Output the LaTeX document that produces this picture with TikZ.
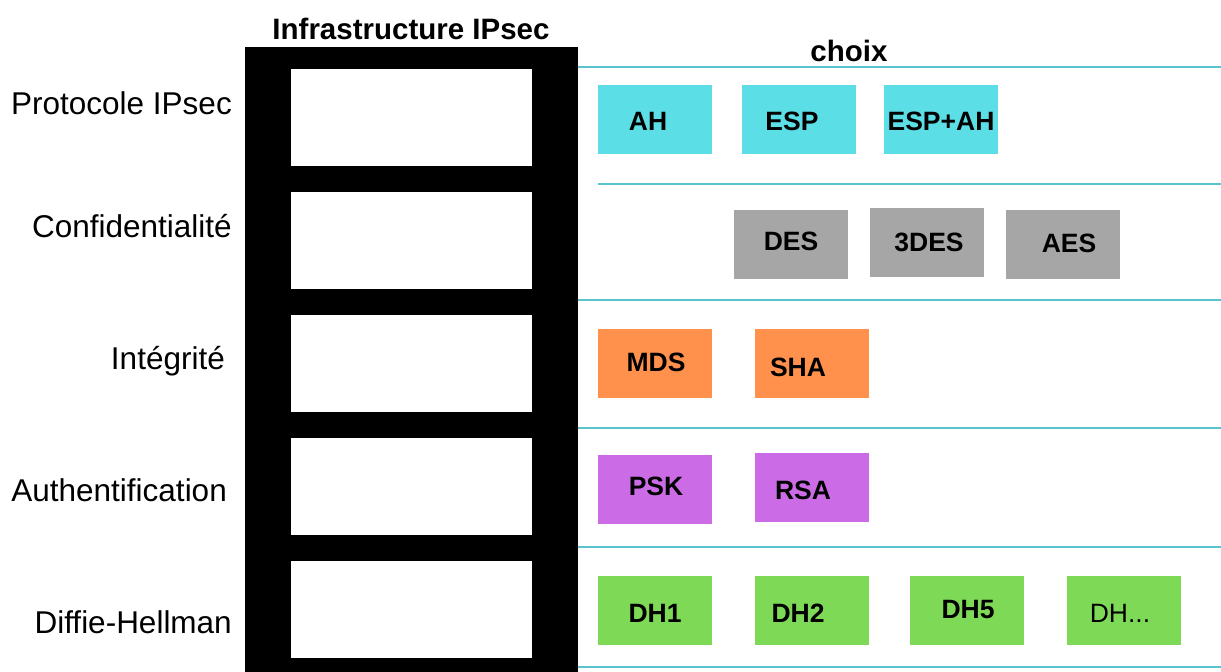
\documentclass[tikz,border=0pt]{standalone}
\usepackage{fontspec}
\setmainfont{Liberation Sans}
\definecolor{ccyan}{RGB}{92,222,230}
\definecolor{cgray}{RGB}{166,166,166}
\definecolor{corange}{RGB}{255,145,77}
\definecolor{cpurple}{RGB}{203,108,230}
\definecolor{cgreen}{RGB}{126,217,87}
\definecolor{cline}{RGB}{90,196,206}
\tikzset{
  chbox/.style={minimum width=114pt,minimum height=69pt,inner sep=0pt,draw=none},
  chtxt/.style={font=\fontsize{26.5}{29}\selectfont\bfseries,inner sep=0pt},
  rowlab/.style={font=\fontsize{31.5}{34}\selectfont,inner sep=0pt,anchor=base east},
  sep/.style={draw=cline,line width=2pt},
  slot/.style={fill=white,draw=none}
}
\begin{document}
\begin{tikzpicture}[x=1pt,y=-1pt]
\useasboundingbox[fill=white] (0,0) rectangle (1221,672);
% infrastructure column
\fill[black] (245,47) rectangle (578,672);
\foreach \y in {69,192,315,438,561}{\fill[white] (291,\y) rectangle (532,\y+97);}
\node[font=\fontsize{29.5}{32}\selectfont\bfseries,anchor=base,inner sep=0pt] (title) at (411,39) {Infrastructure IPsec};
\node[font=\fontsize{29.5}{32}\selectfont\bfseries,anchor=base,inner sep=0pt] (choix) at (849,61) {choix};
% separators
\draw[sep] (578,67) -- (1221,67);
\draw[sep] (598,184) -- (1221,184);
\draw[sep] (578,300) -- (1221,300);
\draw[sep] (578,428) -- (1221,428);
\draw[sep] (578,547) -- (1221,547);
\draw[sep] (578,667) -- (1221,667);
% row labels
\node[rowlab] (l1) at (232,114) {Protocole IPsec};
\node[rowlab] (l2) at (232,237) {Confidentialité};
\node[rowlab] (l3) at (225,369) {Intégrité};
\node[rowlab] (l4) at (227,501) {Authentification};
\node[rowlab] (l5) at (232,633) {Diffie-Hellman};
% choices
\node[chbox,fill=ccyan] (ah) at (655,119.5) {};
\node[chtxt] (aht) at (648,121) {AH};
\node[chbox,fill=ccyan] (esp) at (798.5,119.5) {};
\node[chtxt] (espt) at (792,121) {ESP};
\node[chbox,fill=ccyan] (espah) at (941,119.5) {};
\node[chtxt] (espaht) at (941,121) {ESP+AH};
\node[chbox,fill=cgray] (des) at (791,244.5) {};
\node[chtxt] (dest) at (791,241) {DES};
\node[chbox,fill=cgray] (tdes) at (927,242.5) {};
\node[chtxt] (tdest) at (929,242) {3DES};
\node[chbox,fill=cgray] (aes) at (1062.5,244.5) {};
\node[chtxt] (aest) at (1069,243) {AES};
\node[chbox,fill=corange] (mds) at (655,363.5) {};
\node[chtxt] (mdst) at (656,362) {MDS};
\node[chbox,fill=corange] (sha) at (811.5,363.5) {};
\node[chtxt] (shat) at (798,367) {SHA};
\node[chbox,fill=cpurple] (psk) at (655,489.5) {};
\node[chtxt] (pskt) at (656,486) {PSK};
\node[chbox,fill=cpurple] (rsa) at (811.5,487) {};
\node[chtxt] (rsat) at (803,490) {RSA};
\node[chbox,fill=cgreen] (dha) at (655,610.5) {};
\node[chtxt] (dhat) at (655,613) {DH1};
\node[chbox,fill=cgreen] (dhb) at (811.5,610.5) {};
\node[chtxt] (dhbt) at (798,613) {DH2};
\node[chbox,fill=cgreen] (dhc) at (967,610.5) {};
\node[chtxt] (dhct) at (968,610) {DH5};
\node[chbox,fill=cgreen] (dhd) at (1123.5,610.5) {};
\node[chtxt,font=\fontsize{26.5}{29}\selectfont] (dhdt) at (1120,613) {DH...};
\end{tikzpicture}
\end{document}
